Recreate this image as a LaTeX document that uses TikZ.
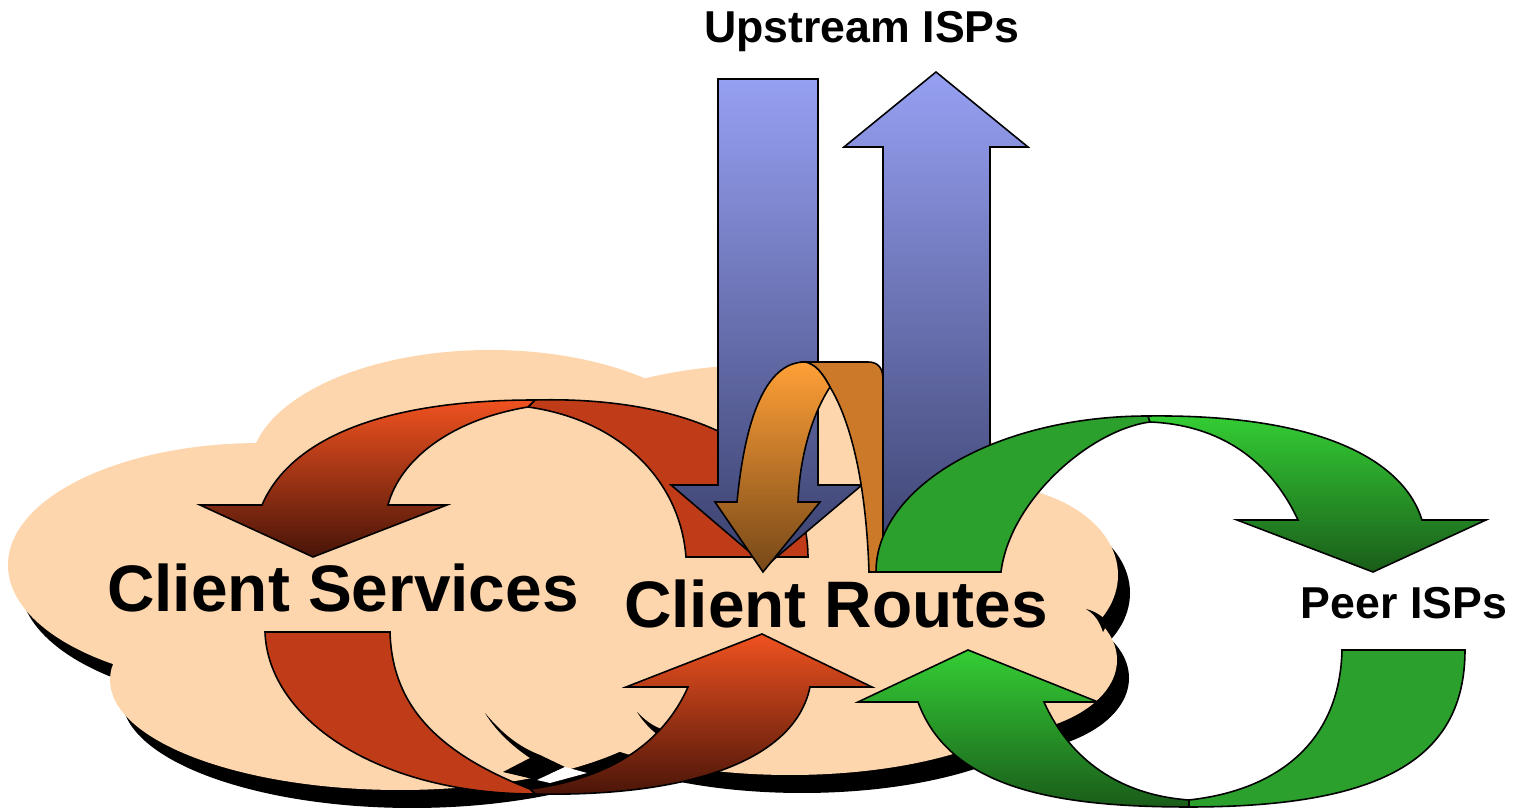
\documentclass[tikz,border=0pt]{standalone}
\usepackage{fontspec}
\setmainfont{Liberation Sans}
\usepackage{tikz}
\definecolor{Peach}{RGB}{254,214,173}
\definecolor{BlueTop}{RGB}{150,160,242}
\definecolor{BlueBot}{RGB}{58,64,108}
\definecolor{RedTop}{RGB}{240,82,32}
\definecolor{RedBot}{RGB}{72,20,8}
\definecolor{RedFlat}{RGB}{192,60,24}
\definecolor{OrangeTop}{RGB}{255,160,55}
\definecolor{OrangeBot}{RGB}{118,72,24}
\definecolor{OrangeFlat}{RGB}{204,122,42}
\definecolor{GreenTop}{RGB}{52,206,52}
\definecolor{GreenBot}{RGB}{26,92,26}
\definecolor{GreenFlat}{RGB}{44,160,44}

\begin{document}
\begin{tikzpicture}[x=0.01cm,y=-0.01cm]
  \tikzstyle{BigLabel}=[font=\fontsize{18.7}{20}\selectfont\bfseries,inner sep=0pt,anchor=base]
  \tikzstyle{SmallLabel}=[font=\fontsize{12.7}{14}\selectfont\bfseries,inner sep=0pt,anchor=base]
  \tikzstyle{Band}=[draw=black,line width=0.45pt,line join=miter]
  \tikzstyle{BlueShade}=[Band,top color=BlueTop,bottom color=BlueBot]
  \useasboundingbox (0,0) rectangle (1514,810);
  % cloud and its shadow
  \begin{scope}[shift={(12,18)}]
    \foreach \cx/\cy/\rx/\ry in {260/565/252/122,490/470/240/120,760/480/245/115,
        985/575/133/90,990/660/127/75,400/680/290/110,790/680/260/95,600/560/420/170}
      \fill[black] (\cx,\cy) ellipse [x radius=\rx,y radius=\ry];
  \end{scope}
  \foreach \cx/\cy/\rx/\ry in {260/565/252/122,490/470/240/120,760/480/245/115,
      985/575/133/90,990/660/127/75,400/680/290/110,790/680/260/95,600/560/420/170}
    \fill[Peach] (\cx,\cy) ellipse [x radius=\rx,y radius=\ry];
  % shadow slivers between the bumps
  \fill[black] (485,713) .. controls (505,737) and (522,748) .. (540,755) -- (565,767) -- (537,780)
    -- (503,772) -- (530,758) .. controls (512,746) and (496,731) .. (485,713) -- cycle;
  \fill[white] (537,780) -- (565,767) -- (587,773) -- (550,783) -- cycle;
  \fill[black] (637,712) .. controls (645,720) and (652,726) .. (664,730) -- (662,738)
    .. controls (652,731) and (644,723) .. (637,712) -- cycle;
  \fill[black] (1086,609) .. controls (1094,614) and (1099,620) .. (1103,632) -- (1108,622)
    .. controls (1101,615) and (1094,611) .. (1086,609) -- cycle;
  % red loop, upper half
  \filldraw[Band,fill=RedFlat] (535,400) .. controls (690,396) and (808,450) .. (808,557)
    -- (686,557) .. controls (680,480) and (620,420) .. (528,407) -- cycle;
  \shadedraw[Band,top color=RedTop,bottom color=RedBot] (535,400) .. controls (380,400) and (290,440) .. (262,505)
    -- (200,505) -- (313,557) -- (447,505) -- (388,505) .. controls (400,460) and (450,420) .. (528,407) -- cycle;
  % upstream arrows
  \shadedraw[BlueShade] (718,79) -- (818,79) -- (818,485) -- (862,485) -- (766,566) -- (671,485) -- (718,485) -- cycle;
  \shadedraw[BlueShade] (883,572) -- (883,147) -- (844,147) -- (936,72) -- (1028,147) -- (990,147) -- (990,572) -- cycle;
  % orange loop
  \filldraw[Band,fill=OrangeFlat] (805,362) -- (868,362) .. controls (879,362) and (883,369) .. (883,380) -- (883,572)
    -- (869,572) .. controls (866,480) and (850,420) .. (830,387) .. controls (822,372) and (815,364) .. (805,362) -- cycle;
  \shadedraw[Band,top color=OrangeTop,bottom color=OrangeBot] (805,362) .. controls (765,362) and (745,420) .. (737,502)
    -- (715,502) -- (763,572) -- (820,502) -- (798,502) .. controls (800,450) and (815,410) .. (830,387)
    .. controls (822,372) and (815,364) .. (805,362) -- cycle;
  % green loop, upper half
  \filldraw[Band,fill=GreenFlat] (876,572) -- (1001,572) .. controls (1010,500) and (1090,430) .. (1150,422)
    -- (1148,416) .. controls (998,416) and (876,486) .. (876,572) -- cycle;
  \shadedraw[Band,top color=GreenTop,bottom color=GreenBot] (1148,416) .. controls (1330,414) and (1405,465) .. (1422,520)
    -- (1486,520) -- (1373,572) -- (1237,520) -- (1298,520) .. controls (1270,460) and (1220,425) .. (1150,422) -- cycle;
  % red loop, lower half
  \shadedraw[Band,top color=RedTop,bottom color=RedBot] (535,794) .. controls (690,797) and (795,760) .. (810,687)
    -- (872,687) -- (762,634) -- (626,687) -- (688,687) .. controls (660,750) and (600,780) .. (530,789) -- cycle;
  \filldraw[Band,fill=RedFlat] (265,632) -- (390,632) .. controls (392,700) and (430,750) .. (530,789)
    -- (535,794) .. controls (380,794) and (268,720) .. (265,632) -- cycle;
  % green loop, lower half
  \filldraw[Band,fill=GreenFlat] (1342,650) -- (1465,650) .. controls (1465,760) and (1380,807) .. (1189,807)
    -- (1189,800) .. controls (1280,790) and (1340,740) .. (1342,650) -- cycle;
  \shadedraw[Band,top color=GreenTop,bottom color=GreenBot] (1189,807) .. controls (1060,807) and (950,790) .. (918,702)
    -- (858,702) -- (968,650) -- (1098,702) -- (1044,702) .. controls (1070,760) and (1120,795) .. (1189,800) -- cycle;
  % labels
  \node[BigLabel] (CS) at (343,612) {Client Services};
  \node[BigLabel] (CR) at (836,628) {Client Routes};
  \node[SmallLabel] (UP) at (862,43) {Upstream ISPs};
  \node[SmallLabel] (PE) at (1404,619) {Peer ISPs};
\end{tikzpicture}
\end{document}
